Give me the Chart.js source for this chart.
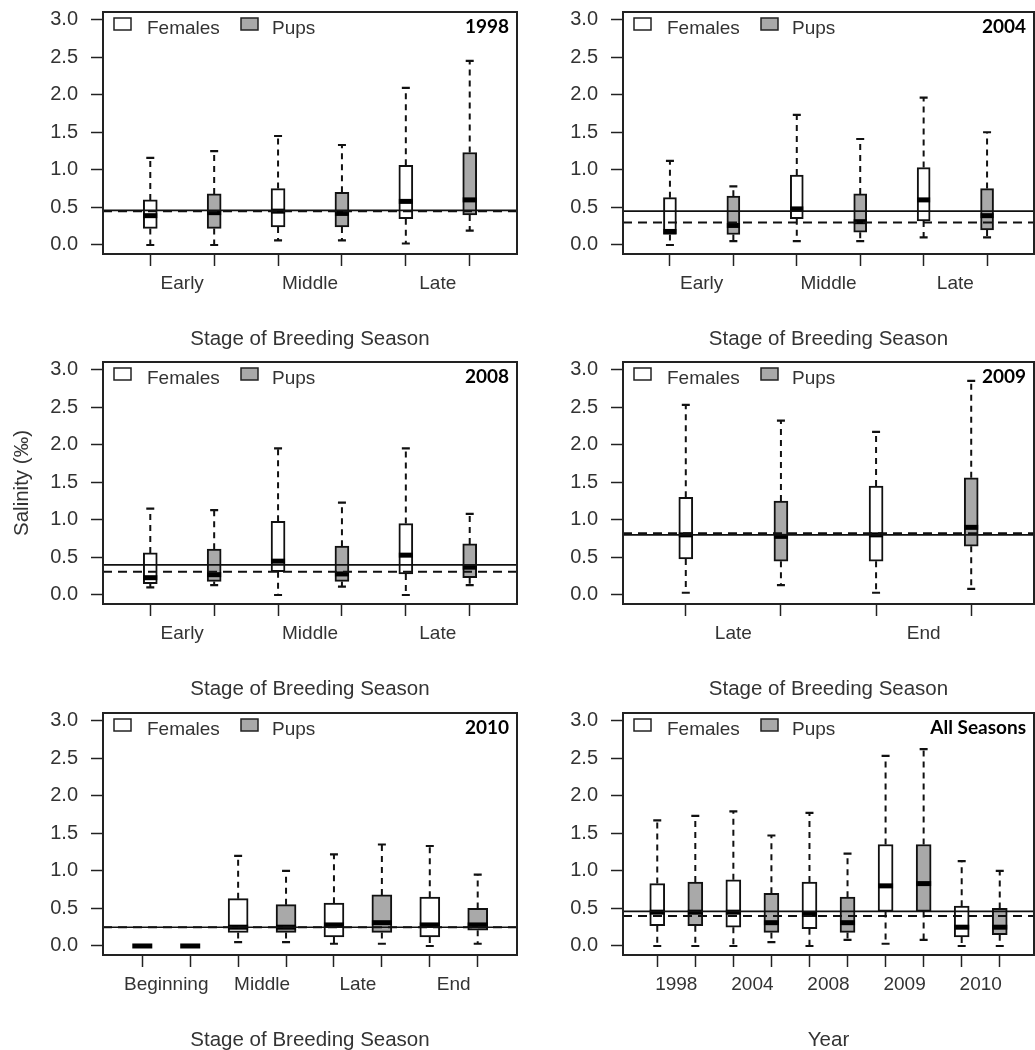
<!DOCTYPE html>
<html>
<head>
<meta charset="utf-8">
<script src="https://cdn.jsdelivr.net/npm/chart.js@4.4.1/dist/chart.umd.min.js"></script>
<style>
  body { margin: 0; background: #fff; }
  #wrap { position: relative; width: 1035px; height: 1050px; overflow: hidden; background: #fff; }
  canvas { position: absolute; }
</style>
</head>
<body>
<div id="wrap">
  <canvas id="p0" width="518" height="350" style="left:0px;top:0px"></canvas>
  <canvas id="p1" width="518" height="350" style="left:520px;top:0px"></canvas>
  <canvas id="p2" width="518" height="350" style="left:0px;top:350px"></canvas>
  <canvas id="p3" width="518" height="350" style="left:520px;top:350px"></canvas>
  <canvas id="p4" width="518" height="350" style="left:0px;top:701px"></canvas>
  <canvas id="p5" width="518" height="350" style="left:520px;top:701px"></canvas>
</div>
<script>
// box summaries are [low whisker, q1, median, q3, high whisker]
const panelTitles = ['1998', '2004', '2008', '2009', '2010', 'All Seasons'];
const xTitles = ['Stage of Breeding Season', 'Stage of Breeding Season', 'Stage of Breeding Season',
  'Stage of Breeding Season', 'Stage of Breeding Season', 'Year'];

const labels1998 = ['Early', 'Middle', 'Late'];
const females1998 = [[0.00, 0.22, 0.39, 0.60, 1.16], [0.06, 0.24, 0.45, 0.75, 1.45], [0.02, 0.35, 0.58, 1.06, 2.09]];
const pups1998 = [[0.00, 0.22, 0.43, 0.68, 1.25], [0.06, 0.24, 0.42, 0.70, 1.33], [0.19, 0.40, 0.60, 1.23, 2.45]];

const labels2004 = ['Early', 'Middle', 'Late'];
const females2004 = [[0.00, 0.14, 0.18, 0.63, 1.12], [0.05, 0.35, 0.48, 0.93, 1.73], [0.10, 0.32, 0.60, 1.03, 1.96]];
const pups2004 = [[0.05, 0.14, 0.26, 0.65, 0.78], [0.05, 0.17, 0.31, 0.68, 1.41], [0.10, 0.20, 0.39, 0.75, 1.50]];

const labels2008 = ['Early', 'Middle', 'Late'];
const females2008 = [[0.10, 0.15, 0.23, 0.56, 1.15], [0.00, 0.31, 0.45, 0.98, 1.95], [0.00, 0.28, 0.53, 0.95, 1.95]];
const pups2008 = [[0.13, 0.18, 0.27, 0.61, 1.13], [0.11, 0.18, 0.28, 0.65, 1.23], [0.13, 0.23, 0.37, 0.68, 1.08]];

const labels2009 = ['Late', 'End'];
const females2009 = [[0.03, 0.48, 0.80, 1.30, 2.53], [0.03, 0.45, 0.80, 1.45, 2.17]];
const pups2009 = [[0.13, 0.45, 0.78, 1.25, 2.32], [0.08, 0.65, 0.90, 1.56, 2.85]];

const labels2010 = ['Beginning', 'Middle', 'Late', 'End'];
const females2010 = [[0, 0, 0, 0, 0], [0.05, 0.18, 0.25, 0.63, 1.20], [0.03, 0.12, 0.28, 0.57, 1.22], [0.00, 0.12, 0.28, 0.65, 1.33]];
const pups2010 = [[0, 0, 0, 0, 0], [0.05, 0.18, 0.25, 0.55, 1.00], [0.03, 0.18, 0.31, 0.68, 1.35], [0.03, 0.21, 0.28, 0.50, 0.95]];

const labelsAll = ['1998', '2004', '2008', '2009', '2010'];
const femalesAll = [[0.00, 0.27, 0.45, 0.83, 1.67], [0.00, 0.25, 0.45, 0.88, 1.79], [0.00, 0.23, 0.42, 0.85, 1.77],
  [0.03, 0.46, 0.80, 1.35, 2.53], [0.00, 0.12, 0.25, 0.53, 1.13]];
const pupsAll = [[0.00, 0.27, 0.45, 0.85, 1.73], [0.05, 0.18, 0.31, 0.70, 1.47], [0.08, 0.18, 0.31, 0.65, 1.23],
  [0.08, 0.46, 0.83, 1.35, 2.62], [0.00, 0.15, 0.25, 0.50, 1.00]];

// horizontal reference lines per panel
const solidLevel = [0.46, 0.45, 0.40, 0.80, 0.25, 0.46];
const dashedLevel = [0.45, 0.30, 0.31, 0.82, 0.25, 0.40];

const yTickValues = [0, 0.5, 1.0, 1.5, 2.0, 2.5, 3.0];

Chart.defaults.font.family = '"Liberation Sans", Arial, sans-serif';
Chart.defaults.font.size = 19;
Chart.defaults.color = '#333';

const INK = '#111';
const GREY = '#a9a9a9';

const boxExtras = {
  id: 'boxExtras',
  afterDatasetsDraw(chart, args, opts) {
    const { ctx, chartArea: a, scales: { x, y } } = chart;
    ctx.save();
    ctx.beginPath();
    ctx.rect(a.left, a.top, a.width, a.height);
    ctx.clip();
    chart.data.datasets.forEach(ds => {
      ds.stats.forEach((s, i) => {
        const px = x.getPixelForValue(ds.data[i].x);
        const w = ds.barThickness;
        // whiskers
        ctx.strokeStyle = INK;
        ctx.lineWidth = 2;
        ctx.setLineDash([6, 5]);
        ctx.beginPath();
        ctx.moveTo(px, y.getPixelForValue(s[3]));
        ctx.lineTo(px, y.getPixelForValue(s[4]));
        ctx.moveTo(px, y.getPixelForValue(s[1]));
        ctx.lineTo(px, y.getPixelForValue(s[0]));
        ctx.stroke();
        ctx.setLineDash([]);
        ctx.lineWidth = 2.2;
        ctx.beginPath();
        [s[0], s[4]].forEach(v => {
          const py = y.getPixelForValue(v);
          ctx.moveTo(px - 4, py);
          ctx.lineTo(px + 4, py);
        });
        ctx.stroke();
        // median
        ctx.fillStyle = '#000';
        ctx.fillRect(px - w / 2, y.getPixelForValue(s[2]) - 2.5, w, 5);
      });
    });
    // reference lines
    const drawLevel = (v, dash, lw) => {
      if (v == null) return;
      const py = y.getPixelForValue(v);
      ctx.setLineDash(dash);
      ctx.lineWidth = lw;
      ctx.strokeStyle = INK;
      ctx.beginPath();
      ctx.moveTo(a.left, py);
      ctx.lineTo(a.right, py);
      ctx.stroke();
    };
    drawLevel(opts.solid, [], 1.6);
    drawLevel(opts.dashed, [9, 6], 2);
    ctx.restore();

    ctx.save();
    ctx.setLineDash([]);
    // frame
    ctx.strokeStyle = '#222';
    ctx.lineWidth = 2;
    ctx.strokeRect(a.left, a.top, a.width, a.height);
    // legend
    ctx.lineWidth = 1.5;
    ctx.fillStyle = '#fff';
    ctx.fillRect(a.left + 11, a.top + 6, 17, 12);
    ctx.strokeRect(a.left + 11, a.top + 6, 17, 12);
    ctx.fillStyle = GREY;
    ctx.fillRect(a.left + 138, a.top + 6, 17, 12);
    ctx.strokeRect(a.left + 138, a.top + 6, 17, 12);
    ctx.fillStyle = '#333';
    ctx.font = '19px "Liberation Sans", Arial, sans-serif';
    ctx.textBaseline = 'alphabetic';
    ctx.textAlign = 'left';
    ctx.fillText('Females', a.left + 44, a.top + 22);
    ctx.fillText('Pups', a.left + 169, a.top + 22);
    // panel label
    ctx.fillStyle = '#000';
    ctx.font = 'bold 19px Lato, "Open Sans", sans-serif';
    ctx.textAlign = 'right';
    ctx.fillText(opts.title, a.right - 8, a.top + 21);
    ctx.restore();
  }
};

function makePanel(id, idx, labels, females, pups, boxW, rightPad, yTitle) {
  const n = labels.length * 2;
  const ctx = document.getElementById(id).getContext('2d');
  const tickVals = [];
  for (let i = 1; i <= n; i++) tickVals.push(i);
  labels.forEach((l, k) => tickVals.push(2 * k + 1.5));
  tickVals.sort((p, q) => p - q);

  return new Chart(ctx, {
    type: 'bar',
    data: {
      datasets: [{
        label: 'Females',
        data: females.map((s, i) => ({ x: 2 * i + 1, y: [s[1], s[3]] })),
        stats: females,
        backgroundColor: '#fff',
        borderColor: INK,
        borderWidth: 2,
        borderSkipped: false,
        barThickness: boxW,
        grouped: false
      }, {
        label: 'Pups',
        data: pups.map((s, i) => ({ x: 2 * i + 2, y: [s[1], s[3]] })),
        stats: pups,
        backgroundColor: GREY,
        borderColor: INK,
        borderWidth: 2,
        borderSkipped: false,
        barThickness: boxW,
        grouped: false
      }]
    },
    options: {
      responsive: false,
      animation: false,
      layout: { padding: { top: 12, right: rightPad, left: 0, bottom: 0 } },
      plugins: {
        legend: { display: false },
        tooltip: { enabled: false },
        boxExtras: { solid: solidLevel[idx], dashed: dashedLevel[idx], title: panelTitles[idx] }
      },
      scales: {
        x: {
          type: 'linear',
          offset: false,
          min: 0.5 - 0.04 * n,
          max: n + 0.5 + 0.04 * n,
          afterBuildTicks: axis => { axis.ticks = tickVals.map(v => ({ value: v })); },
          afterFit: axis => { axis.height = 96; axis.paddingLeft = 0; axis.paddingRight = 0; },
          border: { display: false },
          grid: {
            offset: false,
            drawOnChartArea: false,
            tickLength: 12,
            tickWidth: 1.5,
            tickColor: c => (c.tick && Number.isInteger(c.tick.value)) ? '#222' : 'rgba(0,0,0,0)'
          },
          ticks: {
            autoSkip: false,
            maxRotation: 0,
            minRotation: 0,
            padding: 6,
            callback: v => Number.isInteger(v) ? '' : labels[(v - 1.5) / 2]
          },
          title: { display: true, text: xTitles[idx], font: { size: 20.5 }, padding: { top: 0, bottom: -2 } }
        },
        y: {
          min: -0.12,
          max: 3.1,
          afterBuildTicks: axis => { axis.ticks = yTickValues.map(v => ({ value: v })); },
          afterFit: axis => { axis.width = 103; axis.paddingTop = 0; axis.paddingBottom = 0; },
          border: { display: false },
          grid: { drawOnChartArea: false, tickLength: 12, tickWidth: 1.5, tickColor: '#222' },
          ticks: { padding: 13, font: { size: 20 }, callback: v => v.toFixed(1) },
          title: { display: !!yTitle, text: yTitle || '', font: { size: 20.5 }, padding: { top: 10, bottom: 0 } }
        }
      }
    },
    plugins: [boxExtras]
  });
}

makePanel('p0', 0, labels1998, females1998, pups1998, 14, 1);
makePanel('p1', 1, labels2004, females2004, pups2004, 13, 4);
makePanel('p2', 2, labels2008, females2008, pups2008, 14, 1, 'Salinity (‰)');
makePanel('p3', 3, labels2009, females2009, pups2009, 14, 4);
makePanel('p4', 4, labels2010, females2010, pups2010, 20, 1);
makePanel('p5', 5, labelsAll, femalesAll, pupsAll, 15, 4);
</script>
</body>
</html>
